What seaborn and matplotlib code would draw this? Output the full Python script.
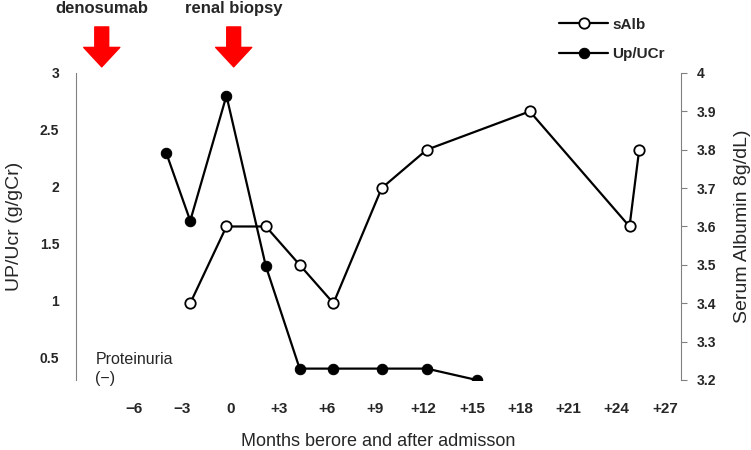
import matplotlib.pyplot as plt
import seaborn as sns

# months relative to admission
months_up = [-4, -2.5, -0.25, 2.2, 4.3, 6.4, 9.4, 12.2, 15.3]
up_ucr = [2.3, 1.7, 2.8, 1.3, 0.4, 0.4, 0.4, 0.4, 0.3]

months_alb = [-2.5, -0.25, 2.2, 4.3, 6.4, 9.4, 12.2, 18.6, 24.8, 25.4]
salb = [3.4, 3.6, 3.6, 3.5, 3.4, 3.7, 3.8, 3.9, 3.6, 3.8]

x_ticks = [-6, -3, 0, 3, 6, 9, 12, 15, 18, 21, 24, 27]
x_ticklabels = ["−6", "−3", "0", "+3", "+6", "+9", "+12", "+15", "+18", "+21", "+24", "+27"]
left_ticks = [0.5, 1, 1.5, 2, 2.5, 3]
right_ticks = [3.2, 3.3, 3.4, 3.5, 3.6, 3.7, 3.8, 3.9, 4]

events = ["denosumab", "renal biopsy"]
event_months = [-8, 0.2]

sns.set_style("white")
plt.rcParams["font.family"] = ["Liberation Sans", "DejaVu Sans"]

fig = plt.figure(figsize=(7.51, 4.5), dpi=100)
ax = fig.add_axes([0.1012, 0.1556, 0.8056, 0.6822])
ax2 = ax.twinx()

sns.lineplot(x=months_up, y=up_ucr, ax=ax, color="black", lw=1.6, marker="o",
             markersize=7.5, markerfacecolor="black", markeredgecolor="black",
             legend=False)
sns.lineplot(x=months_alb, y=salb, ax=ax2, color="black", lw=1.6, marker="o",
             markersize=7.5, markerfacecolor="white", markeredgecolor="black",
             markeredgewidth=1.3, legend=False)

ax.set_xlim(-9.6, 28)
ax.set_ylim(0.3, 3.0)
ax2.set_ylim(3.2, 4.0)

ax.set_xticks(x_ticks)
ax.set_xticklabels(x_ticklabels, fontsize=11, fontweight="bold")
ax.tick_params(axis="x", length=0, pad=16)
ax.set_yticks(left_ticks)
ax.set_yticklabels([f"{v:g}" for v in left_ticks], fontsize=10, fontweight="bold")
ax.tick_params(axis="y", length=0, pad=12)
ax2.set_yticks(right_ticks)
ax2.set_yticklabels([f"{v:g}" for v in right_ticks], fontsize=10, fontweight="bold")
ax2.tick_params(axis="y", length=4, width=0.8, color="#808080", pad=7)

for a in (ax, ax2):
    for s in ("top", "bottom"):
        a.spines[s].set_visible(False)
ax.spines["right"].set_visible(False)
ax.spines["left"].set_color("#808080")
ax2.spines["left"].set_visible(False)
ax2.spines["right"].set_color("#808080")

ax.set_xlabel("Months berore and after admisson", fontsize=13, labelpad=12)
ax.set_ylabel("UP/Ucr (g/gCr)", fontsize=14, labelpad=12)
ax2.set_ylabel("Serum Albumin 8g/dL)", fontsize=14, labelpad=13)

ax.text(-8.4, 0.40, "Proteinuria\n(−)", fontsize=11.5, ha="left", va="center",
        linespacing=1.35)

for name, m in zip(events, event_months):
    ax.annotate("", xy=(m, 1.02), xytext=(m, 1.15), xycoords=("data", "axes fraction"),
                arrowprops=dict(arrowstyle="simple,head_length=0.7,head_width=1.3,tail_width=0.5",
                                color="#ff0000", mutation_scale=20, shrinkA=0, shrinkB=0))
    ax.text(m, 1.21, name, transform=ax.get_xaxis_transform(), fontsize=12,
            fontweight="bold", ha="center", va="center")

h_up = ax.lines[0]
h_alb = ax2.lines[0]
fig.legend([h_alb, h_up], ["sAlb", "Up/UCr"], loc="center", bbox_to_anchor=(0.815, 0.912),
           frameon=False, handlelength=3.2, labelspacing=1.03, handletextpad=0.3,
           prop={"size": 11, "weight": "bold"})

fig.savefig("out.png", dpi=100)
